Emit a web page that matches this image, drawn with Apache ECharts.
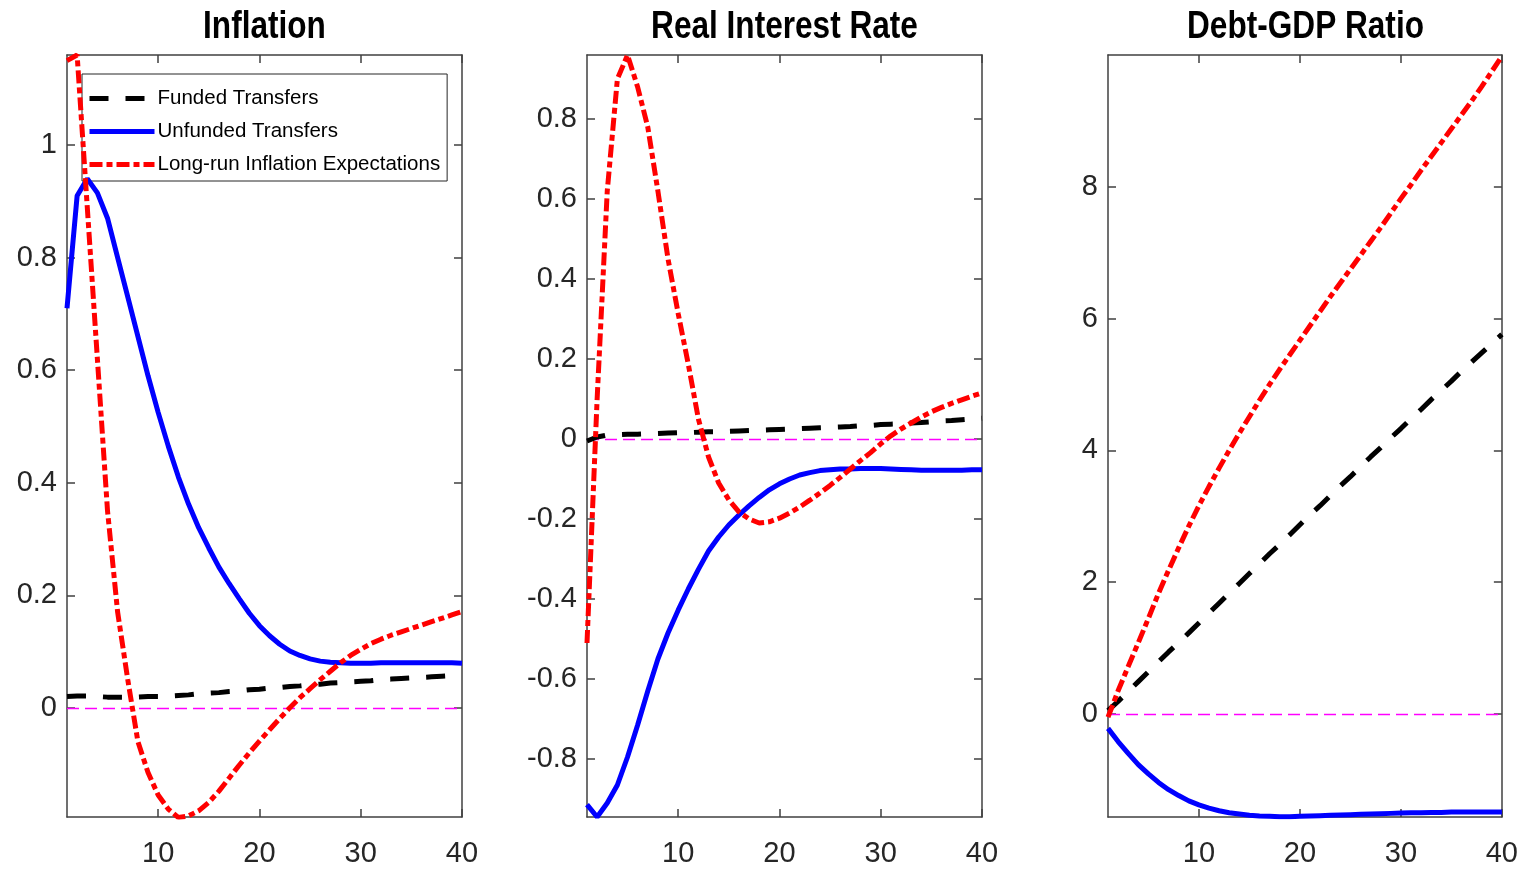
<!DOCTYPE html>
<html>
<head>
<meta charset="utf-8">
<script src="https://cdn.jsdelivr.net/npm/echarts@6/dist/echarts.min.js"></script>
<style>
  html, body { margin: 0; padding: 0; background: #fff; }
  #chart { width: 1521px; height: 871px; }
</style>
</head>
<body>
<div id="chart"></div>
<script>
const FONT = "'Liberation Sans', Arial, sans-serif"

const periods = [1, 2, 3, 4, 5, 6, 7, 8, 9, 10, 11, 12, 13, 14, 15, 16, 17, 18, 19, 20,
  21, 22, 23, 24, 25, 26, 27, 28, 29, 30, 31, 32, 33, 34, 35, 36, 37, 38, 39, 40]
const xTicks = [10, 20, 30, 40]

const titles = ['Inflation', 'Real Interest Rate', 'Debt-GDP Ratio']
const seriesNames = ['Funded Transfers', 'Unfunded Transfers', 'Long-run Inflation Expectations']

// Inflation
const inflFunded = [0.02, 0.021, 0.021, 0.02, 0.019, 0.019, 0.019, 0.019, 0.02, 0.02,
  0.021, 0.022, 0.023, 0.025, 0.026, 0.027, 0.029, 0.03, 0.032, 0.033,
  0.035, 0.036, 0.038, 0.039, 0.041, 0.042, 0.044, 0.045, 0.046, 0.047,
  0.048, 0.05, 0.051, 0.052, 0.053, 0.054, 0.055, 0.056, 0.057, 0.058]
const inflUnfunded = [0.71, 0.91, 0.94, 0.915, 0.87, 0.8, 0.73, 0.66, 0.59, 0.525,
  0.465, 0.41, 0.362, 0.32, 0.284, 0.25, 0.221, 0.194, 0.168, 0.146,
  0.128, 0.113, 0.101, 0.093, 0.087, 0.083, 0.081, 0.08, 0.079, 0.079,
  0.079, 0.08, 0.08, 0.08, 0.08, 0.08, 0.08, 0.08, 0.08, 0.079]
const inflExpect = [1.15, 1.16, 0.89, 0.62, 0.35, 0.17, 0.05, -0.06, -0.115, -0.155,
  -0.18, -0.195, -0.192, -0.183, -0.168, -0.148, -0.125, -0.102, -0.08, -0.059,
  -0.039, -0.019, 0.0, 0.018, 0.034, 0.05, 0.065, 0.08, 0.093, 0.104,
  0.114, 0.122, 0.129, 0.135, 0.141, 0.147, 0.153, 0.159, 0.165, 0.171]
const inflTicks = [0, 0.2, 0.4, 0.6, 0.8, 1]

// Real interest rate
const rirFunded = [-0.005, 0.005, 0.01, 0.011, 0.012, 0.012, 0.013, 0.014, 0.015, 0.016,
  0.016, 0.017, 0.018, 0.018, 0.019, 0.02, 0.021, 0.022, 0.023, 0.024,
  0.025, 0.026, 0.027, 0.028, 0.029, 0.03, 0.031, 0.033, 0.034, 0.036,
  0.037, 0.038, 0.04, 0.041, 0.043, 0.045, 0.046, 0.048, 0.05, 0.052]
const rirUnfunded = [-0.914, -0.945, -0.91, -0.865, -0.795, -0.715, -0.63, -0.55, -0.485, -0.428,
  -0.375, -0.326, -0.28, -0.245, -0.215, -0.19, -0.167, -0.146, -0.127, -0.112,
  -0.1, -0.09, -0.084, -0.079, -0.077, -0.075, -0.075, -0.074, -0.074, -0.074,
  -0.075, -0.076, -0.077, -0.078, -0.078, -0.078, -0.078, -0.078, -0.077, -0.077]
const rirExpect = [-0.51, 0.1, 0.62, 0.9, 0.96, 0.88, 0.78, 0.62, 0.45, 0.314,
  0.187, 0.05, -0.045, -0.11, -0.152, -0.182, -0.2, -0.21, -0.207, -0.198,
  -0.185, -0.17, -0.153, -0.135, -0.116, -0.096, -0.075, -0.054, -0.034, -0.012,
  0.008, 0.025, 0.04, 0.055, 0.068, 0.079, 0.089, 0.098, 0.107, 0.115]
const rirTicks = [-0.8, -0.6, -0.4, -0.2, 0, 0.2, 0.4, 0.6, 0.8]

// Debt-GDP ratio
const debtFunded = [0.05, 0.19, 0.34, 0.49, 0.64, 0.79, 0.94, 1.08, 1.23, 1.38,
  1.53, 1.68, 1.83, 1.98, 2.13, 2.28, 2.43, 2.57, 2.72, 2.87,
  3.02, 3.16, 3.31, 3.46, 3.6, 3.75, 3.9, 4.04, 4.19, 4.33,
  4.48, 4.62, 4.77, 4.91, 5.05, 5.2, 5.34, 5.48, 5.62, 5.76]
const debtUnfunded = [-0.22, -0.42, -0.6, -0.77, -0.91, -1.04, -1.15, -1.24, -1.32, -1.38,
  -1.43, -1.47, -1.5, -1.52, -1.54, -1.55, -1.555, -1.56, -1.56, -1.555,
  -1.55, -1.545, -1.54, -1.535, -1.53, -1.525, -1.52, -1.515, -1.51, -1.505,
  -1.5, -1.5, -1.495, -1.495, -1.49, -1.49, -1.49, -1.49, -1.49, -1.49]
const debtExpect = [-0.05, 0.35, 0.72, 1.08, 1.45, 1.83, 2.18, 2.52, 2.85, 3.16,
  3.45, 3.73, 4.0, 4.26, 4.51, 4.76, 5.0, 5.23, 5.45, 5.67,
  5.89, 6.11, 6.33, 6.54, 6.75, 6.96, 7.17, 7.38, 7.6, 7.82,
  8.03, 8.25, 8.46, 8.67, 8.88, 9.09, 9.3, 9.52, 9.75, 9.98]
const debtTicks = [0, 2, 4, 6, 8]

const panels = [
  { left: 67, yMin: -0.194, yMax: 1.16, ticks: inflTicks, lines: [inflFunded, inflUnfunded, inflExpect] },
  { left: 587, yMin: -0.945, yMax: 0.96, ticks: rirTicks, lines: [rirFunded, rirUnfunded, rirExpect] },
  { left: 1108, yMin: -1.565, yMax: 10.0, ticks: debtTicks, lines: [debtFunded, debtUnfunded, debtExpect] },
]

const PLOT_W = 395
const PLOT_TOP = 55
const PLOT_H = 762
const AXIS_COLOR = '#404040'

const lineStyles = [
  { color: '#000000', width: 5, type: [19, 17] },
  { color: '#0000ff', width: 5, type: 'solid' },
  { color: '#ff0000', width: 5, type: [13, 4, 6, 4] },
]

const grid = []
const xAxis = []
const yAxis = []
const series = []
const graphics = []

function axisBase(labels, tickValues, position, gridIndex, min, max) {
  return {
    type: 'value',
    gridIndex: gridIndex,
    position: position,
    min: min,
    max: max,
    axisLine: { show: true, onZero: false, lineStyle: { color: AXIS_COLOR, width: 1.5 } },
    axisTick: { show: true, inside: true, length: 8, customValues: tickValues, lineStyle: { color: AXIS_COLOR, width: 1.5 } },
    axisLabel: labels ? {
      show: true,
      customValues: tickValues,
      fontSize: 29,
      fontFamily: FONT,
      color: '#262626',
      margin: position === 'bottom' ? 22 : 10,
    } : { show: false },
    splitLine: { show: false },
  }
}

panels.forEach((p, i) => {
  grid.push({ left: p.left, top: PLOT_TOP, width: PLOT_W, height: PLOT_H })
  // narrow bold title, like the condensed font of the original
  graphics.push({
    type: 'text',
    x: p.left + PLOT_W / 2,
    y: 27,
    scaleX: 0.81,
    style: {
      text: titles[i],
      fontSize: 39,
      fontWeight: 'bold',
      fontFamily: FONT,
      fill: '#000',
      align: 'center',
      verticalAlign: 'middle',
    },
  })
  xAxis.push(axisBase(true, xTicks, 'bottom', i, 1, 40))
  xAxis.push(axisBase(false, xTicks, 'top', i, 1, 40))
  yAxis.push(axisBase(true, p.ticks, 'left', i, p.yMin, p.yMax))
  yAxis.push(axisBase(false, p.ticks, 'right', i, p.yMin, p.yMax))

  p.lines.forEach((vals, k) => {
    const s = {
      name: seriesNames[k],
      type: 'line',
      xAxisIndex: i * 2,
      yAxisIndex: i * 2,
      data: periods.map((x, j) => [x, vals[j]]),
      symbol: 'none',
      showSymbol: false,
      smooth: false,
      clip: true,
      lineStyle: lineStyles[k],
      itemStyle: { color: lineStyles[k].color },
      z: 3 + k,
    }
    if (k === 0) {
      s.markLine = {
        silent: true,
        symbol: 'none',
        label: { show: false },
        lineStyle: { color: '#ff00ff', width: 1.3, type: [12, 6] },
        data: [{ yAxis: 0 }],
        z: 2,
      }
    }
    series.push(s)
  })
})

const chart = echarts.init(document.getElementById('chart'), null, { renderer: 'canvas' })
chart.setOption({
  animation: false,
  backgroundColor: '#ffffff',
  graphic: graphics,
  grid: grid,
  xAxis: xAxis,
  yAxis: yAxis,
  legend: {
    data: seriesNames,
    orient: 'vertical',
    left: 82,
    top: 74,
    padding: [14, 7, 6, 5],
    itemWidth: 65,
    itemHeight: 25,
    itemGap: 12,
    borderColor: '#262626',
    borderWidth: 1,
    backgroundColor: '#ffffff',
    selectedMode: false,
    itemStyle: { color: 'rgba(0,0,0,0)', borderWidth: 0, opacity: 0 },
    lineStyle: { width: 5 },
    textStyle: { fontSize: 20.5, fontFamily: FONT, color: '#000', padding: [0, 0, 0, -2] },
  },
  series: series,
})
</script>
</body>
</html>
